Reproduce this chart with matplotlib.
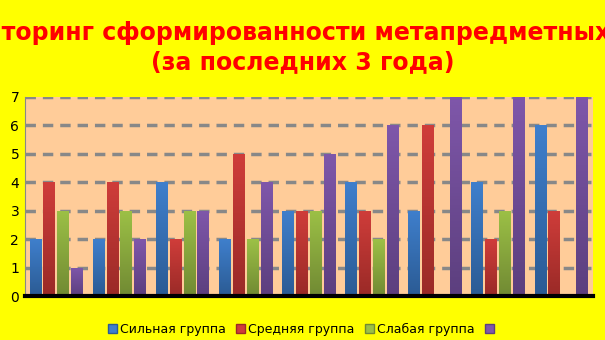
import numpy as np
import matplotlib.pyplot as plt
from matplotlib.patches import Patch
from matplotlib.colors import LinearSegmentedColormap

groups = list(range(9))
strong = [2, 2, 4, 2, 3, 4, 3, 4, 6]
middle = [4, 4, 2, 5, 3, 3, 6, 2, 3]
weak = [3, 3, 3, 2, 3, 2, 0, 3, 0]
other = [1, 2, 3, 4, 5, 6, 7, 7, 7]
series = [strong, middle, weak, other]
labels = ['Сильная группа', 'Средняя группа', 'Слабая группа', '']
# (top colour, bottom colour) for the gradient fill
colors = [('#3f7fcc', '#2b5b94'), ('#cf3d3a', '#9a2a27'),
          ('#9cc046', '#718a33'), ('#7f57aa', '#5c3f7e')]

fig = plt.figure(figsize=(6.05, 3.40), dpi=100)
fig.patch.set_facecolor('#ffff00')
ax = fig.add_axes([0.041, 0.129, 0.939, 0.586])
ax.set_facecolor('#ffcc99')

width = 0.19
offsets = [-0.33, -0.11, 0.11, 0.33]
x = np.array(groups)
grad = np.linspace(1, 0, 64).reshape(-1, 1)
for vals, off, (ctop, cbot) in zip(series, offsets, colors):
    bars = ax.bar(x + off, vals, width, color=ctop, zorder=3)
    cmap = LinearSegmentedColormap.from_list('g', [cbot, ctop])
    for b in bars:
        h = b.get_height()
        if h <= 0:
            continue
        im = ax.imshow(grad, cmap=cmap, aspect='auto', zorder=4,
                       extent=[b.get_x(), b.get_x() + b.get_width(), 0, h])
        im.set_clip_path(b)

ax.set_xlim(-0.5, 8.5)
ax.set_ylim(0, 7)
ax.set_yticks(range(8))
ax.set_xticks([])
ax.yaxis.grid(True, color='#888888', linestyle=(0, (3, 2)), linewidth=2.5, zorder=1)
ax.tick_params(axis='y', length=0, labelsize=10, pad=4)
for s in ['top', 'right']:
    ax.spines[s].set_visible(False)
ax.spines['left'].set_color('#888888')
ax.spines['bottom'].set_color('black')
ax.spines['bottom'].set_linewidth(3)
ax.spines['bottom'].set_zorder(5)

fig.text(0.5, 0.86, 'Мониторинг сформированности метапредметных УУД\n(за последних 3 года)',
         ha='center', va='center', color='red', fontsize=17, fontweight='bold',
         linespacing=1.25)

handles = [Patch(facecolor=c[0], edgecolor=c[1]) for c in colors]
fig.legend(handles, labels, loc='center', bbox_to_anchor=(0.5, 0.032), ncol=4,
           frameon=False, fontsize=9, handlelength=0.75, handleheight=0.75,
           handletextpad=0.25, columnspacing=0.8)

fig.savefig('out.png', dpi=100, facecolor=fig.get_facecolor())
